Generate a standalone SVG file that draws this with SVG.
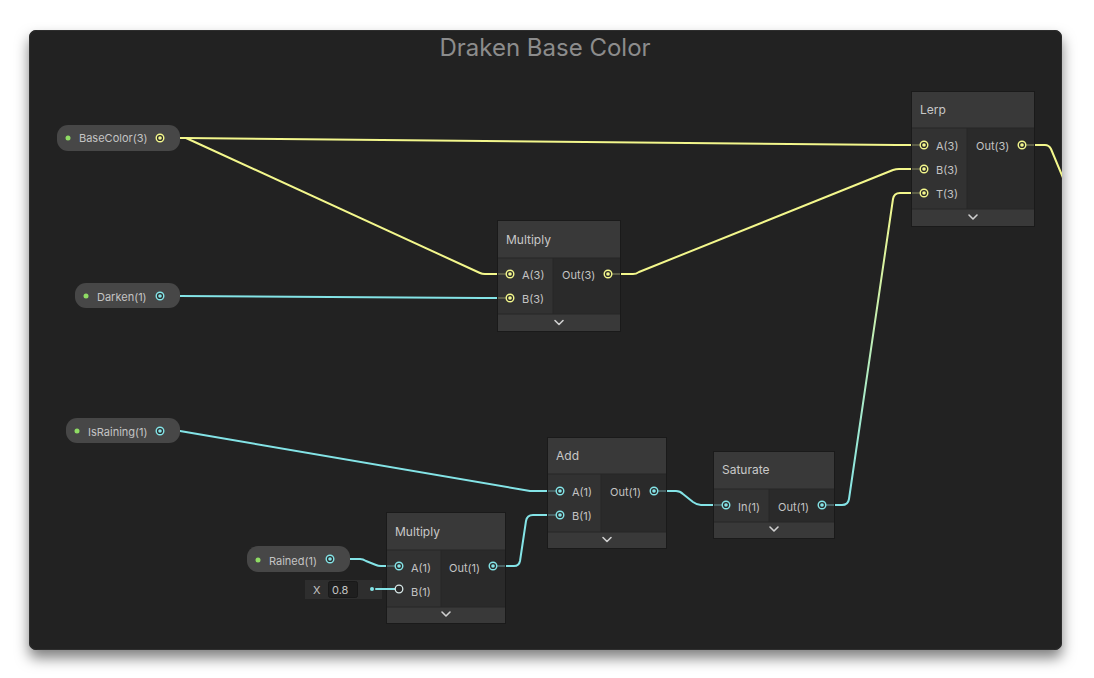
<svg xmlns="http://www.w3.org/2000/svg" width="1094" height="678" viewBox="0 0 1094 678">
<defs>
<filter id="shadow" x="-5%" y="-5%" width="110%" height="115%">
<feDropShadow dx="0" dy="8" stdDeviation="7" flood-color="#000" flood-opacity="0.5"/>
</filter>
<clipPath id="panelClip"><rect x="29" y="30" width="1033" height="620" rx="7"/></clipPath>
<linearGradient id="gradT" gradientUnits="userSpaceOnUse" x1="0" y1="505" x2="0" y2="193">
<stop offset="0" stop-color="#84e4e7"/>
<stop offset="1" stop-color="#f3f78c"/>
</linearGradient>
<style>
.title{font-family:Inter,"Liberation Sans",sans-serif;font-size:24px;fill:#8c8c8c}
.ntitle{font-family:Inter,"Liberation Sans",sans-serif;font-size:12px;fill:#c8c8c8}
.plabel{font-family:Inter,"Liberation Sans",sans-serif;font-size:11px;fill:#c4c4c4}
.head{fill:#393939}
.inp{fill:#323232}
.outp{fill:#2a2a2a}
.foot{fill:#393939}
.frame{fill:none;stroke:#1a1a1a;stroke-width:1}
.pill{fill:#474747}
.gdot{fill:#8fdc64}
.edge{fill:none;stroke-width:2;stroke-linejoin:round;stroke-linecap:round}
.y{stroke:#f3f78c}
.c{stroke:#84e4e7}
.stubY{stroke:#5d5e48;stroke-width:2}
.stubC{stroke:#4a6264;stroke-width:2}
.ringY{fill:#2b2b2b;stroke:#f3f78c;stroke-width:1.4}
.ringC{fill:#2b2b2b;stroke:#84e4e7;stroke-width:1.4}
.dotY{fill:#f3f78c}
.dotC{fill:#84e4e7}
.chev{fill:none;stroke:#d0d0d0;stroke-width:1.6;stroke-linecap:round;stroke-linejoin:round}
</style>
</defs>
<rect width="1094" height="678" fill="#ffffff"/>
<g id="panel">
<rect x="29" y="30" width="1033" height="620" rx="7" fill="#202020" filter="url(#shadow)"/>
<rect x="29.5" y="30.5" width="1032" height="619" rx="7" fill="none" stroke="#2e2e2e"/>
<text class="title" x="545" y="56" text-anchor="middle">Draken Base Color</text>
</g>
<g id="connectors" clip-path="url(#panelClip)">
<path class="edge y" d="M180,138 L184,138 L897,145 L912,145"/>
<path class="edge y" d="M180,138 L186,138 L480,273 Q482,274 485,274 L498,274"/>
<path class="edge c" d="M180,296 L482,298 L498,298"/>
<path class="edge y" d="M620,274 L633,274 Q636,274 639,272 L893,170 Q896,169 899,169 L912,169"/>
<path class="edge y" d="M1034,145 L1045,145 Q1049,145 1051,149 L1066,185"/>
<path class="edge c" d="M180,431 L530,491 L548,491"/>
<path class="edge c" d="M349,559 L360,559 Q363,559 366,561 L376,565 Q378,566 381,566 L387,566"/>
<path class="edge c" d="M505,566 L514,566 Q519,566 520,561 L526,521 Q527,515 533,515 L548,515"/>
<path class="edge c" d="M666,491 L676,491 Q680,491 683,494 L693,502 Q697,505 701,505 L714,505"/>
<path class="edge" stroke="url(#gradT)" d="M834,505 L842,505 Q848,505 849,499 L893,199 Q894,193 900,193 L912,193"/>
</g>
<g id="node-basecolor">
<rect class="pill" x="57" y="125" width="123" height="26" rx="11"/>
<circle class="gdot" cx="68" cy="138" r="2.5"/>
<text class="plabel" x="79" y="142">BaseColor(3)</text>
<circle class="ringY" cx="160" cy="138" r="3.8"/>
<circle class="dotY" cx="160" cy="138" r="1.8"/>
</g>
<g id="node-darken">
<rect class="pill" x="75" y="283" width="105" height="25" rx="11"/>
<circle class="gdot" cx="86" cy="296" r="2.5"/>
<text class="plabel" x="97" y="301">Darken(1)</text>
<circle class="ringC" cx="160" cy="296" r="3.8"/>
<circle class="dotC" cx="160" cy="296" r="1.8"/>
</g>
<g id="node-israining">
<rect class="pill" x="66" y="418" width="114" height="25" rx="11"/>
<circle class="gdot" cx="77" cy="431" r="2.5"/>
<text class="plabel" x="88" y="436">IsRaining(1)</text>
<circle class="ringC" cx="160" cy="431" r="3.8"/>
<circle class="dotC" cx="160" cy="431" r="1.8"/>
</g>
<g id="node-rained">
<rect class="pill" x="247" y="546" width="103" height="26" rx="11"/>
<circle class="gdot" cx="258" cy="560" r="2.5"/>
<text class="plabel" x="269" y="565">Rained(1)</text>
<circle class="ringC" cx="330" cy="559" r="3.8"/>
<circle class="dotC" cx="330" cy="559" r="1.8"/>
</g>
<g id="node-xinput">
<rect x="305" y="580" width="77" height="19" fill="#2e2e2e"/>
<text class="plabel" x="313" y="594" font-size="12">X</text>
<rect x="328.5" y="581.5" width="29" height="16" rx="2" fill="#1f1f1f" stroke="#191919"/>
<text class="plabel" x="332" y="594">0.8</text>
<circle class="dotC" cx="372" cy="589" r="2"/>
</g>
<g id="node-multiply1">
<rect class="head" x="498" y="221" width="122" height="37"/>
<rect class="inp" x="498" y="258" width="55" height="56"/>
<rect class="outp" x="553" y="258" width="67" height="56"/>
<rect class="foot" x="498" y="314" width="122" height="17"/>
<rect class="frame" x="497.5" y="220.5" width="123" height="111"/>
<line x1="498" y1="258" x2="620" y2="258" stroke="#262626"/>
<line x1="498" y1="314" x2="620" y2="314" stroke="#262626"/>
<line x1="553" y1="258" x2="553" y2="314" stroke="#262626"/>
<text class="ntitle" x="506" y="244">Multiply</text>
<line class="stubY" x1="498" y1="274" x2="506" y2="274"/>
<line class="stubY" x1="498" y1="298" x2="506" y2="298"/>
<line class="stubY" x1="612" y1="274" x2="620" y2="274"/>
<circle class="ringY" cx="510" cy="274" r="3.8"/><circle class="dotY" cx="510" cy="274" r="1.8"/>
<circle class="ringY" cx="510" cy="298" r="3.8"/><circle class="dotY" cx="510" cy="298" r="1.8"/>
<circle class="ringY" cx="608" cy="274" r="3.8"/><circle class="dotY" cx="608" cy="274" r="1.8"/>
<text class="plabel" x="522" y="279">A(3)</text>
<text class="plabel" x="522" y="303">B(3)</text>
<text class="plabel" x="562" y="279">Out(3)</text>
<path class="chev" d="M555,320.5 L559,324.5 L563,320.5"/>
</g>
<g id="node-lerp">
<rect class="head" x="912" y="92" width="122" height="36"/>
<rect class="inp" x="912" y="128" width="55" height="81"/>
<rect class="outp" x="967" y="128" width="67" height="81"/>
<rect class="foot" x="912" y="209" width="122" height="17"/>
<rect class="frame" x="911.5" y="91.5" width="123" height="135"/>
<line x1="912" y1="128" x2="1034" y2="128" stroke="#262626"/>
<line x1="912" y1="209" x2="1034" y2="209" stroke="#262626"/>
<line x1="967" y1="128" x2="967" y2="209" stroke="#262626"/>
<text class="ntitle" x="920" y="114">Lerp</text>
<line class="stubY" x1="912" y1="145" x2="920" y2="145"/>
<line class="stubY" x1="912" y1="169" x2="920" y2="169"/>
<line class="stubY" x1="912" y1="193" x2="920" y2="193"/>
<line class="stubY" x1="1026" y1="145" x2="1034" y2="145"/>
<circle class="ringY" cx="924" cy="145" r="3.8"/><circle class="dotY" cx="924" cy="145" r="1.8"/>
<circle class="ringY" cx="924" cy="169" r="3.8"/><circle class="dotY" cx="924" cy="169" r="1.8"/>
<circle class="ringY" cx="924" cy="193" r="3.8"/><circle class="dotY" cx="924" cy="193" r="1.8"/>
<circle class="ringY" cx="1022" cy="145" r="3.8"/><circle class="dotY" cx="1022" cy="145" r="1.8"/>
<text class="plabel" x="936" y="150">A(3)</text>
<text class="plabel" x="936" y="174">B(3)</text>
<text class="plabel" x="936" y="198">T(3)</text>
<text class="plabel" x="976" y="150">Out(3)</text>
<path class="chev" d="M969,215 L973,219 L977,215"/>
</g>
<g id="node-add">
<rect class="head" x="548" y="438" width="118" height="36"/>
<rect class="inp" x="548" y="474" width="53" height="58"/>
<rect class="outp" x="601" y="474" width="65" height="58"/>
<rect class="foot" x="548" y="532" width="118" height="16"/>
<rect class="frame" x="547.5" y="437.5" width="119" height="111"/>
<line x1="548" y1="474" x2="666" y2="474" stroke="#262626"/>
<line x1="548" y1="532" x2="666" y2="532" stroke="#262626"/>
<line x1="601" y1="474" x2="601" y2="532" stroke="#262626"/>
<text class="ntitle" x="556" y="460">Add</text>
<line class="stubC" x1="548" y1="491" x2="556" y2="491"/>
<line class="stubC" x1="548" y1="515" x2="556" y2="515"/>
<line class="stubC" x1="658" y1="491" x2="666" y2="491"/>
<circle class="ringC" cx="560" cy="491" r="3.8"/><circle class="dotC" cx="560" cy="491" r="1.8"/>
<circle class="ringC" cx="560" cy="515" r="3.8"/><circle class="dotC" cx="560" cy="515" r="1.8"/>
<circle class="ringC" cx="654" cy="491" r="3.8"/><circle class="dotC" cx="654" cy="491" r="1.8"/>
<text class="plabel" x="572" y="496">A(1)</text>
<text class="plabel" x="572" y="520">B(1)</text>
<text class="plabel" x="610" y="496">Out(1)</text>
<path class="chev" d="M603,537.5 L607,541.5 L611,537.5"/>
</g>
<g id="node-saturate">
<rect class="head" x="714" y="452" width="120" height="37"/>
<rect class="inp" x="714" y="489" width="55" height="33"/>
<rect class="outp" x="769" y="489" width="65" height="33"/>
<rect class="foot" x="714" y="522" width="120" height="16"/>
<rect class="frame" x="713.5" y="451.5" width="121" height="87"/>
<line x1="714" y1="489" x2="834" y2="489" stroke="#262626"/>
<line x1="714" y1="522" x2="834" y2="522" stroke="#262626"/>
<line x1="769" y1="489" x2="769" y2="522" stroke="#262626"/>
<text class="ntitle" x="722" y="474">Saturate</text>
<line class="stubC" x1="714" y1="505" x2="722" y2="505"/>
<line class="stubC" x1="826" y1="505" x2="834" y2="505"/>
<circle class="ringC" cx="726" cy="505" r="3.8"/><circle class="dotC" cx="726" cy="505" r="1.8"/>
<circle class="ringC" cx="822" cy="505" r="3.8"/><circle class="dotC" cx="822" cy="505" r="1.8"/>
<text class="plabel" x="738" y="511">In(1)</text>
<text class="plabel" x="778" y="511">Out(1)</text>
<path class="chev" d="M770,527 L774,531 L778,527"/>
</g>
<g id="node-multiply2">
<rect class="head" x="387" y="513" width="118" height="37"/>
<rect class="inp" x="387" y="550" width="54" height="57"/>
<rect class="outp" x="441" y="550" width="64" height="57"/>
<rect class="foot" x="387" y="607" width="118" height="16"/>
<rect class="frame" x="386.5" y="512.5" width="119" height="111"/>
<line x1="387" y1="550" x2="505" y2="550" stroke="#262626"/>
<line x1="387" y1="607" x2="505" y2="607" stroke="#262626"/>
<line x1="441" y1="550" x2="441" y2="607" stroke="#262626"/>
<text class="ntitle" x="395" y="536">Multiply</text>
<line class="stubC" x1="387" y1="566" x2="395" y2="566"/>
<line class="stubC" x1="497" y1="566" x2="505" y2="566"/>
<path class="edge c" d="M376,589 L395,589"/>
<circle class="ringC" cx="399" cy="566" r="3.8"/><circle class="dotC" cx="399" cy="566" r="1.8"/>
<circle cx="399" cy="589" r="3.8" fill="#2b2b2b" stroke="#d8e8e8" stroke-width="1.3"/>
<circle class="ringC" cx="493" cy="566" r="3.8"/><circle class="dotC" cx="493" cy="566" r="1.8"/>
<text class="plabel" x="411" y="572">A(1)</text>
<text class="plabel" x="411" y="596">B(1)</text>
<text class="plabel" x="449" y="572">Out(1)</text>
<path class="chev" d="M442,612 L446,616 L450,612"/>
</g>
</svg>
